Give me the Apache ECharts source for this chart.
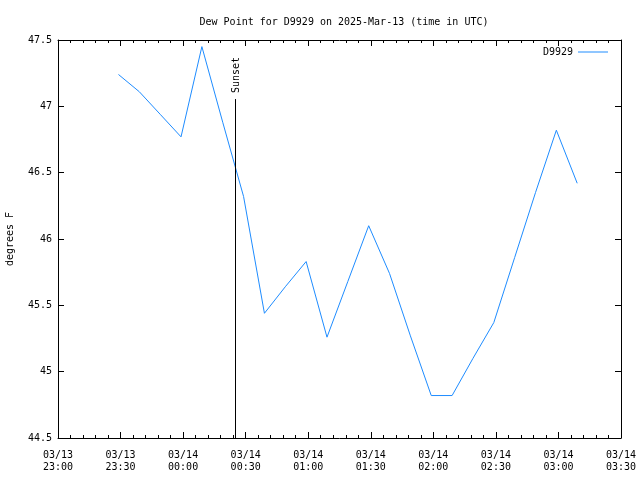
<!DOCTYPE html>
<html>
<head>
<meta charset="utf-8">
<script src="https://cdn.jsdelivr.net/npm/echarts@6/dist/echarts.min.js"></script>
<style>html,body{margin:0;padding:0;background:#fff}#c{width:640px;height:480px}</style>
</head>
<body>
<div id="c"></div>
<script>
const titleText = 'Dew Point for D9929 on 2025-Mar-13 (time in UTC)';
const seriesName = 'D9929';
const yAxisName = 'degrees F';
const sampleTimes = ['23:29','23:39','23:49','23:59','00:09','00:19','00:29','00:39','00:49','00:59','01:09','01:19','01:29','01:39','01:49','01:59','02:09','02:19','02:29','02:39','02:49','02:59','03:09'];
const dewPoint = [47.24,47.11,46.94,46.77,47.45,46.88,46.32,45.44,45.64,45.83,45.26,45.68,46.10,45.74,45.27,44.82,44.82,45.10,45.37,45.86,46.35,46.82,46.42];
const xTickLabels = ['03/13\n23:00','03/13\n23:30','03/14\n00:00','03/14\n00:30','03/14\n01:00','03/14\n01:30','03/14\n02:00','03/14\n02:30','03/14\n03:00','03/14\n03:30'];
const sunsetTime = '00:25';
const sunsetTop = 47.055;
const sunsetLabel = 'Sunset';
const yMin = 44.5, yMax = 47.5, yStep = 0.5;

function toMin(s){ const [h,m]=s.split(':').map(Number); let t=h*60+m; if(h<12) t+=1440; return t-23*60; }
const data = sampleTimes.map((t,i)=>[toMin(t), dewPoint[i]]);
const sunsetX = toMin(sunsetTime);
const FONT = 'DejaVu Sans Mono';

const chart = echarts.init(document.getElementById('c'));
const axisCommon = {
  axisLine:{show:true,onZero:false,lineStyle:{color:'#000',width:1}},
  splitLine:{show:false}
};
chart.setOption({
  animation:false,
  backgroundColor:'#fff',
  title:{text:titleText,left:339,top:12,textAlign:'center',textStyle:{fontFamily:FONT,fontSize:10,fontWeight:'normal',color:'#000'}},
  legend:{right:27,top:42,itemWidth:30,itemHeight:10,align:'right',itemGap:5,
    textStyle:{fontFamily:FONT,fontSize:10,color:'#000'},
    data:[{name:seriesName,icon:'path://M0,5L30,5L30,6L0,6Z'}]},
  grid:{left:58,right:19,top:40,bottom:42,containLabel:false,outerBoundsMode:'none'},
  xAxis:[
    Object.assign({type:'value',min:0,max:270,interval:30,position:'bottom',
      axisTick:{inside:true,length:6,lineStyle:{color:'#000'}},
      minorTick:{show:true,splitNumber:5,length:3,lineStyle:{color:'#000'}},
      axisLabel:{fontFamily:FONT,fontSize:10,color:'#000',lineHeight:12,margin:11,showMinLabel:true,showMaxLabel:true,
        formatter:v=>xTickLabels[Math.round(v/30)]}},axisCommon),
    Object.assign({type:'value',min:0,max:270,interval:30,position:'top',
      axisTick:{inside:true,length:6,lineStyle:{color:'#000'}},
      minorTick:{show:true,splitNumber:5,length:3,lineStyle:{color:'#000'}},
      axisLabel:{show:false}},axisCommon)
  ],
  yAxis:[
    Object.assign({type:'value',min:yMin,max:yMax,interval:yStep,position:'left',
      name:yAxisName,nameLocation:'middle',nameGap:43,nameTextStyle:{fontFamily:FONT,fontSize:10,color:'#000'},
      axisTick:{inside:true,length:6,lineStyle:{color:'#000'}},
      axisLabel:{fontFamily:FONT,fontSize:10,color:'#000',margin:6,formatter:v=>String(v)}},axisCommon),
    Object.assign({type:'value',min:yMin,max:yMax,interval:yStep,position:'right',
      axisTick:{inside:true,length:6,lineStyle:{color:'#000'}},
      axisLabel:{show:false}},axisCommon)
  ],
  series:[{
    name:seriesName,type:'line',data:data,showSymbol:false,symbol:'none',
    lineStyle:{color:'#1e8cff',width:1},itemStyle:{color:'#1e8cff'},
    markLine:{silent:true,symbol:'none',label:{show:false},
      lineStyle:{color:'#000',width:1,type:'solid'},
      data:[[{coord:[sunsetX,yMin]},{coord:[sunsetX,sunsetTop]}]]}
  }]
});
const p = chart.convertToPixel({xAxisIndex:0,yAxisIndex:0},[sunsetX,sunsetTop]);
chart.setOption({graphic:[{type:'text',x:Math.round(p[0])+1,y:Math.round(p[1])-6,rotation:Math.PI/2,
  style:{text:sunsetLabel,fontFamily:FONT,fontSize:10,fill:'#000',align:'left',verticalAlign:'middle'}}]});
</script>
</body>
</html>
